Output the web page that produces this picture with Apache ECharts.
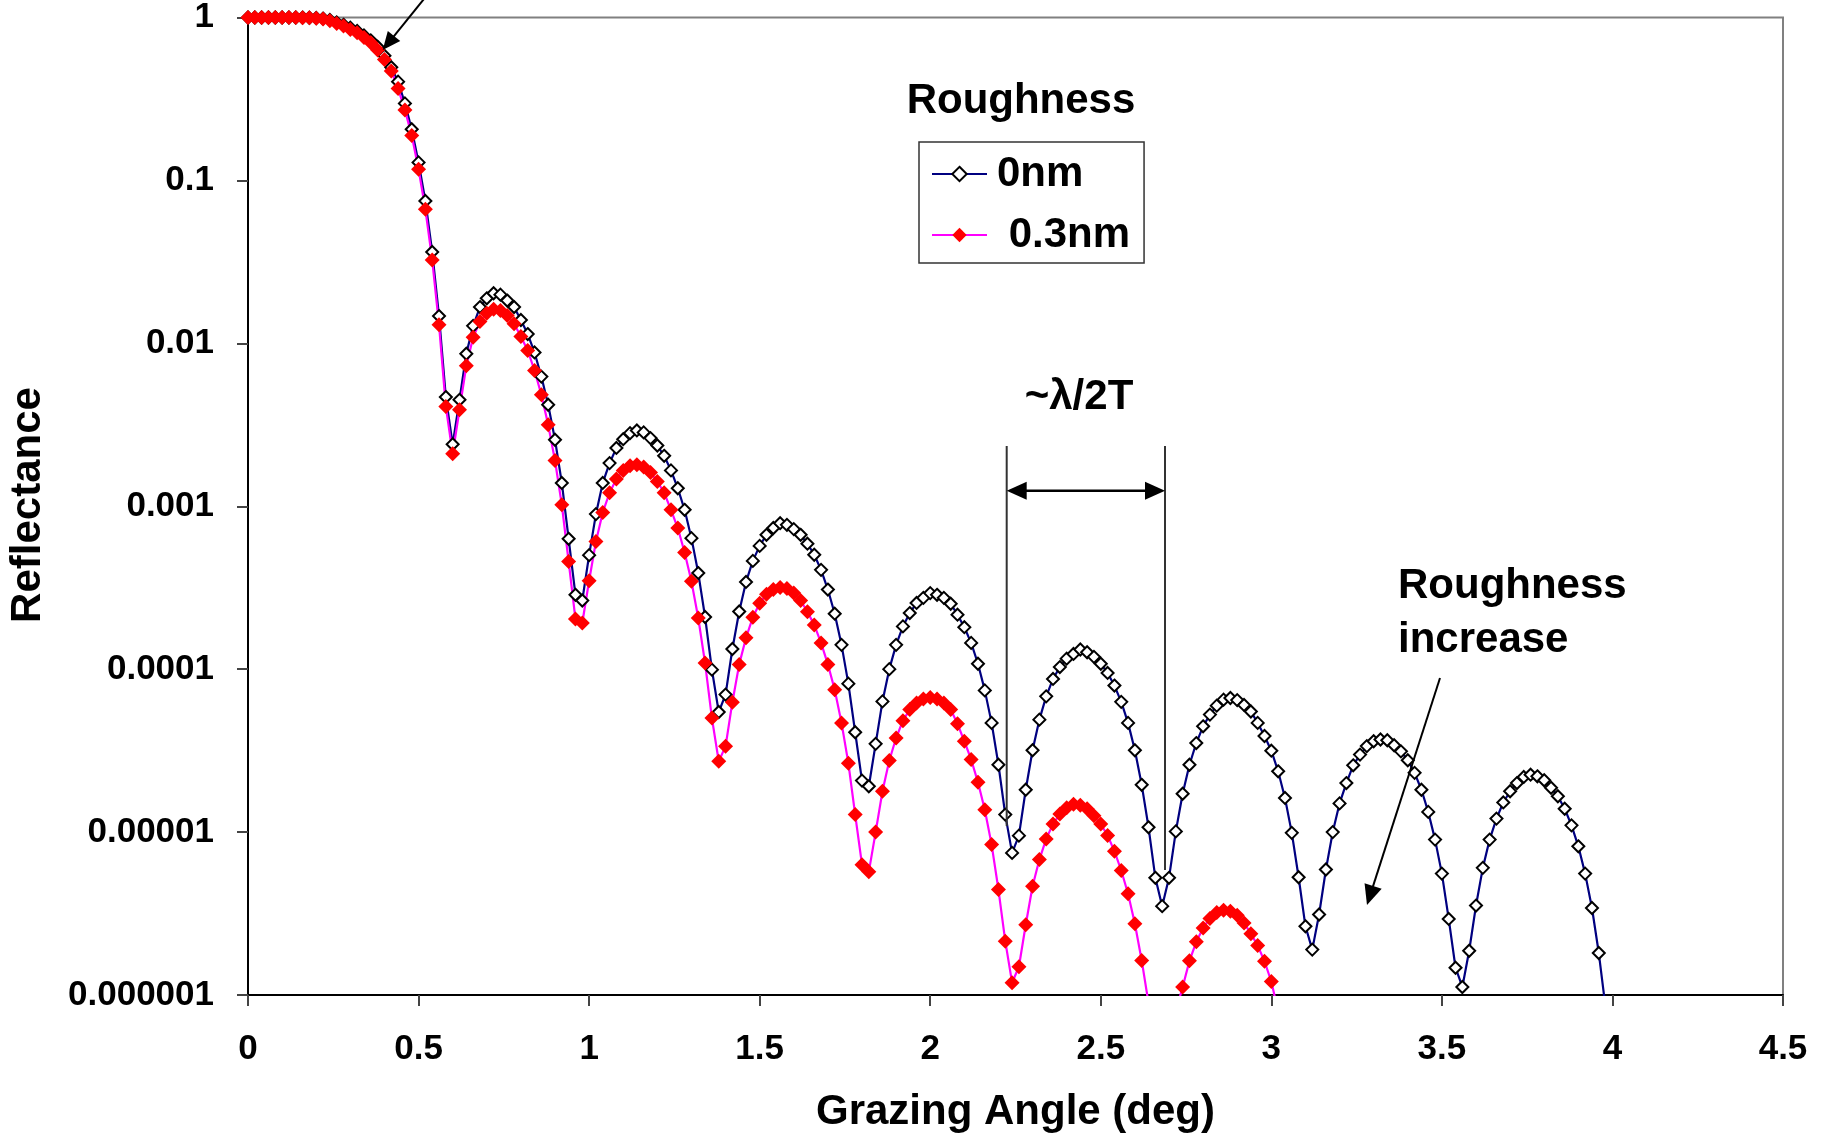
<!DOCTYPE html>
<html><head><meta charset="utf-8">
<script src="https://cdn.jsdelivr.net/npm/echarts@6/dist/echarts.min.js"></script>
<style>html,body{margin:0;padding:0;background:#fff}#c{width:1825px;height:1136px}</style>
</head><body><div id="c"></div>
<script>
// Grazing angle (deg), sampling of the curves
const angles = [
0,0.02,0.04,0.06,0.08,0.1,0.12,0.14,0.16,0.18,
0.2,0.22,0.24,0.26,0.28,0.3,0.32,0.34,0.36,0.38,
0.4,0.42,0.44,0.46,0.48,0.5,0.52,0.54,0.56,0.58,
0.6,0.62,0.64,0.66,0.68,0.7,0.72,0.74,0.76,0.78,
0.8,0.82,0.84,0.86,0.88,0.9,0.92,0.94,0.96,0.98,
1,1.02,1.04,1.06,1.08,1.1,1.12,1.14,1.16,1.18,
1.2,1.22,1.24,1.26,1.28,1.3,1.32,1.34,1.36,1.38,
1.4,1.42,1.44,1.46,1.48,1.5,1.52,1.54,1.56,1.58,
1.6,1.62,1.64,1.66,1.68,1.7,1.72,1.74,1.76,1.78,
1.8,1.82,1.84,1.86,1.88,1.9,1.92,1.94,1.96,1.98,
2,2.02,2.04,2.06,2.08,2.1,2.12,2.14,2.16,2.18,
2.2,2.22,2.24,2.26,2.28,2.3,2.32,2.34,2.36,2.38,
2.4,2.42,2.44,2.46,2.48,2.5,2.52,2.54,2.56,2.58,
2.6,2.62,2.64,2.66,2.68,2.7,2.72,2.74,2.76,2.78,
2.8,2.82,2.84,2.86,2.88,2.9,2.92,2.94,2.96,2.98,
3,3.02,3.04,3.06,3.08,3.1,3.12,3.14,3.16,3.18,
3.2,3.22,3.24,3.26,3.28,3.3,3.32,3.34,3.36,3.38,
3.4,3.42,3.44,3.46,3.48,3.5,3.52,3.54,3.56,3.58,
3.6,3.62,3.64,3.66,3.68,3.7,3.72,3.74,3.76,3.78,
3.8,3.82,3.84,3.86,3.88,3.9,3.92,3.94,3.96,3.98
];
// Reflectance, roughness 0 nm
const reflect0nm = [
1,1,1,1,1,1,1,1,0.999,0.997,
0.993,0.985,0.966,0.933,0.902,0.865,0.826,0.776,0.724,0.661,
0.582,0.495,0.404,0.297,0.206,0.129,0.0748,0.0364,0.0147,4.68e-3,
2.40e-3,4.50e-3,8.63e-3,1.28e-2,1.67e-2,1.89e-2,2.03e-2,1.99e-2,1.83e-2,1.67e-2,
1.39e-2,1.14e-2,8.79e-3,6.25e-3,4.20e-3,2.56e-3,1.39e-3,6.31e-4,2.86e-4,2.64e-4,
5.01e-4,8.95e-4,1.39e-3,1.84e-3,2.28e-3,2.58e-3,2.81e-3,2.92e-3,2.84e-3,2.62e-3,
2.36e-3,2.04e-3,1.66e-3,1.29e-3,9.51e-4,6.37e-4,3.89e-4,2.09e-4,9.93e-5,5.46e-5,
6.98e-5,1.33e-4,2.26e-4,3.43e-4,4.62e-4,5.71e-4,6.68e-4,7.35e-4,7.87e-4,7.69e-4,
7.24e-4,6.68e-4,5.89e-4,5.04e-4,4.07e-4,3.08e-4,2.19e-4,1.41e-4,8.15e-5,4.10e-5,
2.07e-5,1.91e-5,3.48e-5,6.34e-5,1.00e-4,1.41e-4,1.83e-4,2.21e-4,2.55e-4,2.74e-4,
2.93e-4,2.86e-4,2.74e-4,2.52e-4,2.16e-4,1.81e-4,1.45e-4,1.08e-4,7.41e-5,4.68e-5,
2.59e-5,1.28e-5,7.45e-6,9.51e-6,1.82e-5,3.18e-5,4.90e-5,6.81e-5,8.71e-5,1.03e-4,
1.16e-4,1.24e-4,1.32e-4,1.27e-4,1.19e-4,1.08e-4,9.48e-5,7.93e-5,6.30e-5,4.68e-5,
3.18e-5,1.95e-5,1.07e-5,5.24e-6,3.51e-6,5.24e-6,1.01e-5,1.72e-5,2.59e-5,3.52e-5,
4.46e-5,5.26e-5,5.97e-5,6.50e-5,6.65e-5,6.46e-5,6.03e-5,5.50e-5,4.68e-5,3.89e-5,
3.16e-5,2.36e-5,1.62e-5,9.89e-6,5.28e-6,2.64e-6,1.90e-6,3.12e-6,5.89e-6,1.00e-5,
1.50e-5,2.00e-5,2.57e-5,2.99e-5,3.37e-5,3.61e-5,3.70e-5,3.66e-5,3.41e-5,3.13e-5,
2.76e-5,2.31e-5,1.82e-5,1.33e-5,8.99e-6,5.56e-6,2.93e-6,1.47e-6,1.12e-6,1.87e-6,
3.54e-6,6.03e-6,8.99e-6,1.21e-5,1.52e-5,1.78e-5,2.00e-5,2.18e-5,2.25e-5,2.20e-5,
2.08e-5,1.87e-5,1.66e-5,1.39e-5,1.10e-5,8.18e-6,5.56e-6,3.42e-6,1.81e-6,8.3e-7
];
// Reflectance, roughness 0.3 nm
const reflect03nm = [
1,1,1,1,1,1,1,1,0.998,0.995,
0.99,0.98,0.955,0.92,0.887,0.845,0.807,0.755,0.70,0.631,
0.553,0.47,0.366,0.271,0.189,0.117,0.0665,0.0325,0.013,4.09e-3,
2.10e-3,3.91e-3,7.28e-3,1.09e-2,1.36e-2,1.53e-2,1.62e-2,1.59e-2,1.48e-2,1.32e-2,
1.10e-2,9.04e-3,6.81e-3,4.83e-3,3.16e-3,1.91e-3,1.02e-3,4.58e-4,2.03e-4,1.92e-4,
3.49e-4,6.08e-4,9.16e-4,1.21e-3,1.47e-3,1.66e-3,1.77e-3,1.80e-3,1.74e-3,1.61e-3,
1.42e-3,1.21e-3,9.51e-4,7.35e-4,5.20e-4,3.46e-4,2.06e-4,1.09e-4,5.01e-5,2.72e-5,
3.36e-5,6.27e-5,1.07e-4,1.56e-4,2.08e-4,2.54e-4,2.88e-4,3.08e-4,3.17e-4,3.13e-4,
2.93e-4,2.64e-4,2.25e-4,1.87e-4,1.45e-4,1.07e-4,7.48e-5,4.68e-5,2.65e-5,1.28e-5,
6.31e-6,5.70e-6,1.00e-5,1.78e-5,2.75e-5,3.78e-5,4.83e-5,5.65e-5,6.21e-5,6.56e-5,
6.71e-5,6.56e-5,6.21e-5,5.65e-5,4.62e-5,3.61e-5,2.79e-5,2.02e-5,1.37e-5,8.38e-6,
4.44e-6,2.14e-6,1.19e-6,1.49e-6,2.70e-6,4.65e-6,6.78e-6,9.08e-6,1.12e-5,1.29e-5,
1.41e-5,1.48e-5,1.46e-5,1.39e-5,1.26e-5,1.12e-5,9.53e-6,7.64e-6,5.81e-6,4.18e-6,
2.74e-6,1.63e-6,8.9e-7,3.2e-7,1.0e-7,3.2e-7,7.9e-7,1.12e-6,1.62e-6,2.12e-6,
2.58e-6,2.95e-6,3.21e-6,3.31e-6,3.27e-6,3.09e-6,2.77e-6,2.38e-6,2.01e-6,1.61e-6,
1.21e-6,7.9e-7
];
const seriesNames = ['0nm', ' 0.3nm'];
const xTickLabels = ['0','0.5','1','1.5','2','2.5','3','3.5','4','4.5'];
const yTickLabels = ['0.000001','0.00001','0.0001','0.001','0.01','0.1','1'];

const FONT = '"Liberation Sans", Arial, Helvetica, sans-serif';
const chart = echarts.init(document.getElementById('c'), null, {renderer: 'canvas'});

function pairs(vals) { return vals.map((v, i) => [angles[i], v]); }

function arrowHead(tx, ty, fx, fy, len, hw) {
  const dx = tx - fx, dy = ty - fy, d = Math.hypot(dx, dy);
  const ux = dx / d, uy = dy / d;
  const bx = tx - ux * len, by = ty - uy * len;
  return {type: 'polygon', z: 100, silent: true,
    shape: {points: [[tx, ty], [bx - uy * hw, by + ux * hw], [bx + uy * hw, by - ux * hw]]},
    style: {fill: '#000'}};
}
function arrow(fx, fy, tx, ty, len, hw, lw) {
  const dx = tx - fx, dy = ty - fy, d = Math.hypot(dx, dy);
  const ex = tx - dx / d * (len - 2), ey = ty - dy / d * (len - 2);
  return [
    {type: 'line', z: 100, silent: true, shape: {x1: fx, y1: fy, x2: ex, y2: ey}, style: {stroke: '#000', lineWidth: lw}},
    arrowHead(tx, ty, fx, fy, len, hw)
  ];
}
function label(text, x, y, size, align, rot) {
  return {type: 'text', z: 100, silent: true, x: x, y: y, rotation: rot || 0,
    style: {text: text, x: 0, y: 0, font: 'bold ' + size + 'px ' + FONT, fill: '#000',
      align: align || 'center', verticalAlign: 'middle'}};
}

const lamL = 1006.7, lamR = 1165, lamY = 490.7;
const graphics = [].concat(
  arrow(428, -6, 382.7, 50, 18, 8, 2),
  arrow(1440, 678, 1367, 905, 20, 9, 2),
  [
    {type: 'line', z: 100, silent: true, shape: {x1: lamL, y1: 446, x2: lamL, y2: 826}, style: {stroke: '#333', lineWidth: 2}},
    {type: 'line', z: 100, silent: true, shape: {x1: lamR, y1: 446, x2: lamR, y2: 870}, style: {stroke: '#333', lineWidth: 2}},
    {type: 'line', z: 100, silent: true, shape: {x1: lamL + 18, y1: lamY, x2: lamR - 18, y2: lamY}, style: {stroke: '#000', lineWidth: 2.5}},
    arrowHead(lamL, lamY, lamR, lamY, 20, 9),
    arrowHead(lamR, lamY, lamL, lamY, 20, 9),
    label('~\u03bb/2T', 1079, 397, 42),
    label('Roughness', 1021, 101.5, 42),
    label('Roughness', 1398, 586, 42, 'left'),
    label('increase', 1398, 640, 42, 'left'),
    label('Grazing Angle (deg)', 1015.5, 1112.5, 42),
    label('Reflectance', 28, 505, 42, 'center', Math.PI / 2)
  ]
);

chart.setOption({
  animation: false,
  backgroundColor: '#fff',
  grid: {left: 248, top: 17.5, width: 1535, height: 977.5, show: true,
    borderColor: '#808080', borderWidth: 2, backgroundColor: 'transparent'},
  legend: {
    data: seriesNames, orient: 'vertical', left: 919, top: 142,
    padding: [11, 14, 7, 12], itemGap: 19, itemWidth: 55, itemHeight: 18,
    borderColor: '#333', borderWidth: 1.5, backgroundColor: '#fff',
    selectedMode: false,
    textStyle: {fontSize: 42, fontWeight: 'bold', color: '#000', fontFamily: FONT, padding: [0, 0, 0, 5]}
  },
  xAxis: {
    type: 'value', min: 0, max: 4.5, interval: 0.5,
    axisLine: {show: true, onZero: false, lineStyle: {color: '#000', width: 2}},
    axisTick: {show: true, inside: false, length: 11, lineStyle: {color: '#444', width: 2}},
    splitLine: {show: false},
    axisLabel: {margin: 37, fontSize: 35, fontWeight: 'bold', color: '#000', fontFamily: FONT,
      formatter: function (v) { const i = Math.round(v / 0.5); return xTickLabels[i] !== undefined ? xTickLabels[i] : String(v); }}
  },
  yAxis: {
    type: 'log', logBase: 10, min: 1e-6, max: 1,
    axisLine: {show: true, lineStyle: {color: '#000', width: 2}},
    axisTick: {show: true, inside: false, length: 11, lineStyle: {color: '#444', width: 2}},
    splitLine: {show: false}, minorTick: {show: false},
    axisLabel: {margin: 34, fontSize: 35, fontWeight: 'bold', color: '#000', fontFamily: FONT,
      formatter: function (v) { const e = Math.round(Math.log10(v)); return yTickLabels[e + 6] || ''; }}
  },
  series: [
    {
      name: seriesNames[0], type: 'line', data: pairs(reflect0nm), showAllSymbol: true,
      symbol: 'diamond', symbolSize: 12, clip: true, silent: true,
      lineStyle: {color: '#000080', width: 2.2},
      itemStyle: {color: '#ffffff', borderColor: '#000', borderWidth: 2},
      emphasis: {disabled: true}
    },
    {
      name: seriesNames[1], type: 'line', data: pairs(reflect03nm), showAllSymbol: true,
      symbol: 'diamond', symbolSize: 15, clip: true, silent: true,
      lineStyle: {color: '#ff00ff', width: 2.2},
      itemStyle: {color: '#ff0000', borderWidth: 0},
      emphasis: {disabled: true}
    }
  ],
  graphic: graphics
});
</script>
</body></html>
